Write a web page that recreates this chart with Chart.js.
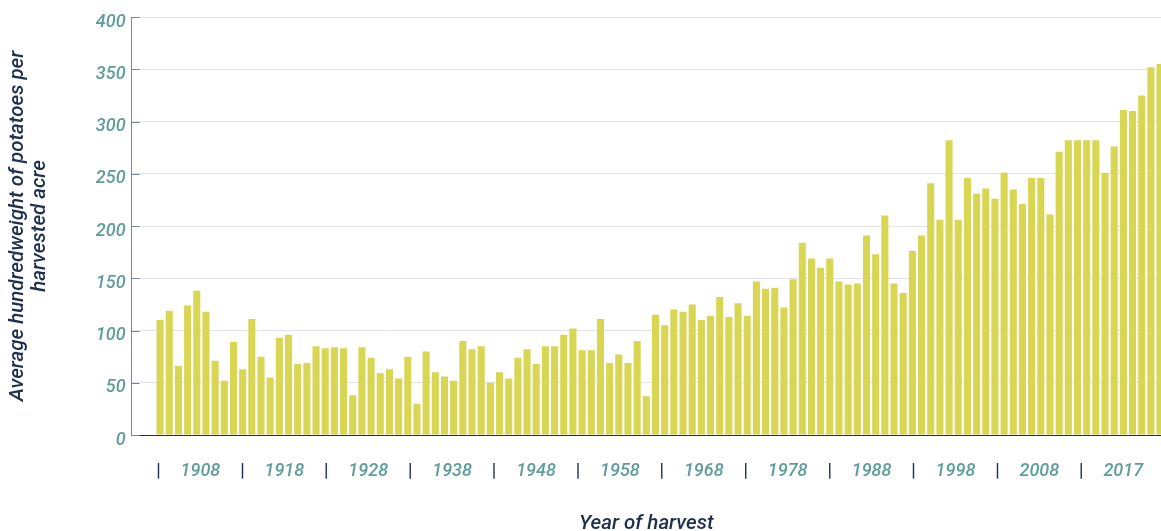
<!DOCTYPE html>
<html lang="en">
<head>
    <meta charset="UTF-8">
    <title>Potato yield per harvested acre</title>
    <script src="https://cdn.jsdelivr.net/npm/chart.js"></script>
    <style>
        html, body { margin: 0; padding: 0; background: #ffffff; }
        #wrap { position: relative; width: 1161px; height: 531px; }
    </style>
</head>
<body>
    <div id="wrap">
        <canvas id="yieldChart"></canvas>
    </div>

    <script>
        // harvest years, one bar each
        const years = [
            1911, 1912, 1913, 1914, 1915, 1916, 1917, 1918, 1919, 1920,
            1921, 1922, 1923, 1924, 1925, 1926, 1927, 1928, 1929, 1930,
            1931, 1932, 1933, 1934, 1935, 1936, 1937, 1938, 1939, 1940,
            1941, 1942, 1943, 1944, 1945, 1946, 1947, 1948, 1949, 1950,
            1951, 1952, 1953, 1954, 1955, 1956, 1957, 1958, 1959, 1960,
            1961, 1962, 1963, 1964, 1965, 1966, 1967, 1968, 1969, 1970,
            1971, 1972, 1973, 1974, 1975, 1976, 1977, 1978, 1979, 1980,
            1981, 1982, 1983, 1984, 1985, 1986, 1987, 1988, 1989, 1990,
            1991, 1992, 1993, 1994, 1995, 1996, 1997, 1998, 1999, 2000,
            2001, 2002, 2003, 2004, 2005, 2006, 2007, 2008, 2009, 2010,
            2011, 2012, 2013, 2014, 2015, 2016, 2017, 2018, 2019, 2020
        ];

        // average hundredweight per harvested acre
        const yieldCwt = [
            110, 119, 66, 124, 138, 118, 71, 52, 89, 63,
            111, 75, 55, 93, 96, 68, 69, 85, 83, 84,
            83, 38, 84, 74, 59, 63, 54, 75, 30, 80,
            60, 56, 52, 90, 82, 85, 50, 60, 54, 74,
            82, 68, 85, 85, 96, 102, 81, 81, 111, 69,
            77, 69, 90, 37, 115, 105, 120, 118, 125, 110,
            114, 132, 113, 126, 114, 147, 140, 141, 122, 149,
            184, 169, 160, 169, 147, 144, 145, 191, 173, 210,
            145, 136, 176, 191, 241, 206, 282, 206, 246, 231,
            236, 226, 251, 235, 221, 246, 246, 211, 271, 282,
            282, 282, 282, 251, 276, 311, 310, 325, 352, 355
        ];

        // labels of the decade strip under the bars
        const groupLabels = ['1908', '1918', '1928', '1938', '1948', '1958',
                             '1968', '1978', '1988', '1998', '2008', '2017'];

        const yTicks = [0, 50, 100, 150, 200, 250, 300, 350, 400];

        const TEAL = '#5e9d9a';
        const NAVY = '#1f2f50';
        const AXIS = '#7a859c';
        const fontFamily = 'Roboto, "Noto Sans", sans-serif';

        // short ticks pointing into the plot from the y axis
        const innerTicks = {
            id: 'innerTicks',
            afterDatasetsDraw(chart) {
                const y = chart.scales.y;
                const left = chart.chartArea.left;
                const ctx = chart.ctx;
                ctx.save();
                ctx.strokeStyle = AXIS;
                ctx.lineWidth = 1;
                y.ticks.forEach(t => {
                    const py = Math.round(y.getPixelForValue(t.value)) + 0.5;
                    ctx.beginPath();
                    ctx.moveTo(left, py);
                    ctx.lineTo(left + 8, py);
                    ctx.stroke();
                });
                ctx.restore();
            }
        };

        const ctx = document.getElementById('yieldChart').getContext('2d');
        new Chart(ctx, {
            type: 'bar',
            data: {
                datasets: [{
                    label: 'Average hundredweight per harvested acre',
                    data: years.map((yr, i) => ({ x: yr, y: yieldCwt[i] })),
                    backgroundColor: '#d8d653',
                    borderWidth: 0,
                    categoryPercentage: 1,
                    barPercentage: 0.77,
                    xAxisID: 'x',
                    yAxisID: 'y'
                }]
            },
            options: {
                responsive: true,
                maintainAspectRatio: false,
                animation: false,
                layout: { padding: { top: 17, left: 0, right: 0, bottom: 0 } },
                plugins: {
                    legend: { display: false },
                    tooltip: { enabled: false }
                },
                scales: {
                    x: {
                        type: 'linear',
                        position: 'bottom',
                        weight: 0,
                        min: 1907.9,
                        max: 2020.1,
                        offset: false,
                        grid: { display: false, drawTicks: false },
                        border: { display: true, color: NAVY, width: 1 },
                        ticks: { display: false },
                        afterFit: scale => { scale.height = 24; }
                    },
                    decades: {
                        type: 'linear',
                        position: 'bottom',
                        weight: 1,
                        min: -0.32,
                        max: 11.95,
                        offset: false,
                        grid: { display: false, drawTicks: false },
                        border: { display: false },
                        afterBuildTicks: scale => {
                            scale.ticks = groupLabels.flatMap((l, i) => [{ value: i }, { value: i + 0.5 }]);
                        },
                        afterFit: scale => { scale.height = 72; },
                        ticks: {
                            autoSkip: false,
                            maxRotation: 0,
                            padding: 2,
                            callback: (value, index) => index % 2 ? groupLabels[(index - 1) / 2] : '|',
                            color: c => c.index % 2 ? TEAL : NAVY,
                            font: c => ({ family: fontFamily, size: 18, weight: 500, style: c.index % 2 ? 'italic' : 'normal' })
                        },
                        title: {
                            display: true,
                            text: 'Year of harvest',
                            color: NAVY,
                            font: { family: fontFamily, size: 20.5, style: 'italic', weight: 500, lineHeight: 0.7 },
                            padding: { top: 7, bottom: 0 }
                        }
                    },
                    y: {
                        min: 0,
                        max: 400,
                        afterBuildTicks: scale => {
                            scale.ticks = yTicks.map(v => ({ value: v }));
                        },
                        grid: { color: '#e2e2ea', lineWidth: 1, drawTicks: false },
                        border: { display: true, color: AXIS, width: 1 },
                        ticks: {
                            color: TEAL,
                            padding: 6,
                            labelOffset: 5,
                            font: { family: fontFamily, size: 18, weight: 500, style: 'italic' }
                        },
                        title: {
                            display: true,
                            text: ['Average hundredweight of potatoes per', 'harvested acre'],
                            color: NAVY,
                            font: { family: fontFamily, size: 20.5, style: 'italic', weight: 500, lineHeight: 1.07 },
                            padding: { top: 7, bottom: 39 }
                        }
                    }
                }
            },
            plugins: [innerTicks]
        });
    </script>
</body>
</html>
